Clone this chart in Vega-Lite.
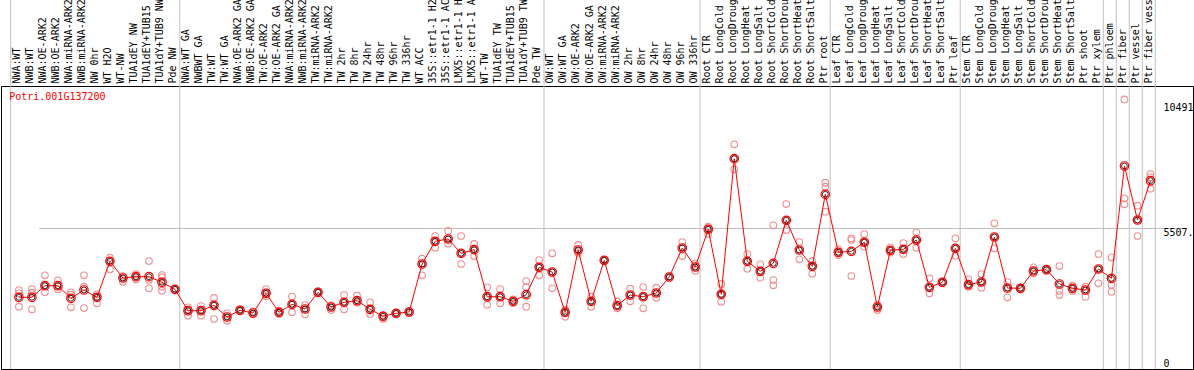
{
  "$schema": "https://vega.github.io/schema/vega-lite/v6.json",
  "width": 1192,
  "height": 283,
  "autosize": {"type": "none"},
  "padding": {"left": 1, "top": 86, "right": 1, "bottom": 1},
  "background": "white",
  "config": {"view": {"stroke": "#000000", "strokeWidth": 1}, "font": "DejaVu Sans Mono"},
  "datasets": {
    "means": [
      {"i":0,"s":"NWA:WT","m":2791,"b":1},{"i":1,"s":"NWB:WT","m":2791},{"i":2,"s":"NWA:OE-ARK2","m":3242},{"i":3,"s":"NWB:OE-ARK2","m":3242},
      {"i":4,"s":"NWA:miRNA-ARK2","m":2752},{"i":5,"s":"NWB:miRNA-ARK2","m":3075},{"i":6,"s":"NW 0hr","m":2791},{"i":7,"s":"WT H2O","m":4192},
      {"i":8,"s":"WT-NW","m":3542},{"i":9,"s":"TUA1dEY NW","m":3593},{"i":10,"s":"TUA1dEY+TUB15 NW","m":3593},{"i":11,"s":"TUA1dY+TUB9 NW","m":3375},
      {"i":12,"s":"Pde NW","m":3102},
      {"i":13,"s":"NWA:WT GA","m":2269,"b":1},{"i":14,"s":"NWBWT GA","m":2269},{"i":15,"s":"TW:WT","m":2479},{"i":16,"s":"TW:WT GA","m":2024},
      {"i":17,"s":"NWA:OE-ARK2 GA","m":2285},{"i":18,"s":"NWB:OE-ARK2 GA","m":2180},{"i":19,"s":"TW:OE-ARK2","m":2947},{"i":20,"s":"TW:OE-ARK2 GA","m":2207},
      {"i":21,"s":"NWA:miRNA-ARK2 GA","m":2518},{"i":22,"s":"NWB:miRNA-ARK2 GA","m":2335},{"i":23,"s":"TW:miRNA-ARK2","m":2985},{"i":24,"s":"TW:miRNA-ARK2 GA","m":2413},
      {"i":25,"s":"TW 2hr","m":2596},{"i":26,"s":"TW 8hr","m":2658},{"i":27,"s":"TW 24hr","m":2324},{"i":28,"s":"TW 48hr","m":2051},
      {"i":29,"s":"TW 96hr","m":2168},{"i":30,"s":"TW 336hr","m":2219},{"i":31,"s":"WT ACC","m":4087},{"i":32,"s":"35S::etr1-1 H2O","m":4971},
      {"i":33,"s":"35S::etr1-1 ACC","m":5060},{"i":34,"s":"LMX5::etr1-1 H2O","m":4503},{"i":35,"s":"LMX5::etr1-1 ACC","m":4644},{"i":36,"s":"WT-TW","m":2814},
      {"i":37,"s":"TUA1dEY TW","m":2814},{"i":38,"s":"TUA1dEY+TUB15 TW","m":2635},{"i":39,"s":"TUA1dY+TUB9 TW","m":2892},{"i":40,"s":"Pde TW","m":3959},
      {"i":41,"s":"OW:WT","m":3776,"b":1},{"i":42,"s":"OW:WT GA","m":2207},{"i":43,"s":"OW:OE-ARK2","m":4632},{"i":44,"s":"OW:OE-ARK2 GA","m":2635},
      {"i":45,"s":"OW:miRNA-ARK2","m":4231},{"i":46,"s":"OW:miRNA-ARK2 GA","m":2464},{"i":47,"s":"OW 2hr","m":2880},{"i":48,"s":"OW 8hr","m":2814},
      {"i":49,"s":"OW 24hr","m":2958},{"i":50,"s":"OW 48hr","m":3581},{"i":51,"s":"OW 96hr","m":4710},{"i":52,"s":"OW 336hr","m":3970},
      {"i":53,"s":"Root CTR","m":5438,"b":1},{"i":54,"s":"Root LongCold","m":2908},{"i":55,"s":"Root LongDrought","m":8186},{"i":56,"s":"Root LongHeat","m":4192},
      {"i":57,"s":"Root LongSalt","m":3803},{"i":58,"s":"Root ShortCold","m":4114},{"i":59,"s":"Root ShortDrought","m":5788},{"i":60,"s":"Root ShortHeat","m":4632},
      {"i":61,"s":"Root ShortSalt","m":3998},{"i":62,"s":"Ptr root","m":6800},
      {"i":63,"s":"Leaf CTR","m":4542,"b":1},{"i":64,"s":"Leaf LongCold","m":4581},{"i":65,"s":"Leaf LongDrought","m":4932},{"i":66,"s":"Leaf LongHeat","m":2413},
      {"i":67,"s":"Leaf LongSalt","m":4620},{"i":68,"s":"Leaf ShortCold","m":4659},{"i":69,"s":"Leaf ShortDrought","m":5021},{"i":70,"s":"Leaf ShortHeat","m":3180},
      {"i":71,"s":"Leaf ShortSalt","m":3375},{"i":72,"s":"Ptr leaf","m":4698},
      {"i":73,"s":"Stem CTR","m":3281,"b":1},{"i":74,"s":"Stem LongCold","m":3386},{"i":75,"s":"Stem LongDrought","m":5138},{"i":76,"s":"Stem LongHeat","m":3153},
      {"i":77,"s":"Stem LongSalt","m":3141},{"i":78,"s":"Stem ShortCold","m":3815},{"i":79,"s":"Stem ShortDrought","m":3865},{"i":80,"s":"Stem ShortHeat","m":3309},
      {"i":81,"s":"Stem ShortSalt","m":3141},{"i":82,"s":"Ptr shoot","m":3075},{"i":83,"s":"Ptr xylem","m":3892},
      {"i":84,"s":"Ptr phloem","m":3530,"b":1},{"i":85,"s":"Ptr fiber","m":7902,"b":1},{"i":86,"s":"Ptr vessel","m":5800,"b":1},{"i":87,"s":"Ptr fiber vessel","m":7329,"b":1}
    ],
    "reps": [
      {"i":0,"v":3075},{"i":0,"v":2947},{"i":0,"v":2425},
      {"i":1,"v":3114},{"i":1,"v":2970},{"i":1,"v":2324},
      {"i":2,"v":3647},{"i":2,"v":3242},{"i":2,"v":2985},
      {"i":3,"v":3453},{"i":3,"v":3242},{"i":3,"v":3102},
      {"i":4,"v":2985},{"i":4,"v":2892},{"i":4,"v":2402},
      {"i":5,"v":3647},{"i":5,"v":3203},{"i":5,"v":2374},
      {"i":6,"v":2908},{"i":6,"v":2791},{"i":6,"v":2557},
      {"i":7,"v":4332},{"i":7,"v":4204},{"i":7,"v":3881},
      {"i":8,"v":3620},{"i":8,"v":3542},{"i":8,"v":3398},
      {"i":9,"v":3698},{"i":9,"v":3593},{"i":9,"v":3491},
      {"i":10,"v":4204},{"i":10,"v":3464},{"i":10,"v":3141},
      {"i":11,"v":3659},{"i":11,"v":3569},{"i":11,"v":3203},{"i":11,"v":3048},
      {"i":12,"v":3102},{"i":12,"v":3080},{"i":12,"v":3130},
      {"i":13,"v":2402},{"i":13,"v":2269},{"i":13,"v":2075},
      {"i":14,"v":2452},{"i":14,"v":2269},{"i":14,"v":2075},
      {"i":15,"v":2764},{"i":15,"v":2479},{"i":15,"v":1946},
      {"i":16,"v":2168},{"i":16,"v":2024},{"i":16,"v":1880},
      {"i":17,"v":2316},{"i":17,"v":2285},{"i":17,"v":2258},
      {"i":18,"v":2246},{"i":18,"v":2180},{"i":18,"v":2129},
      {"i":19,"v":3114},{"i":19,"v":2947},{"i":19,"v":2830},
      {"i":20,"v":2269},{"i":20,"v":2207},{"i":20,"v":2141},
      {"i":21,"v":2822},{"i":21,"v":2518},{"i":21,"v":2211},
      {"i":22,"v":2491},{"i":22,"v":2335},{"i":22,"v":2129},
      {"i":23,"v":3017},{"i":23,"v":2985},{"i":23,"v":2958},
      {"i":24,"v":2472},{"i":24,"v":2413},{"i":24,"v":2297},
      {"i":25,"v":2880},{"i":25,"v":2596},{"i":25,"v":2324},
      {"i":26,"v":2853},{"i":26,"v":2658},{"i":26,"v":2581},
      {"i":27,"v":2596},{"i":27,"v":2324},{"i":27,"v":2141},
      {"i":28,"v":2102},{"i":28,"v":2051},{"i":28,"v":1946},
      {"i":29,"v":2199},{"i":29,"v":2168},{"i":29,"v":2141},
      {"i":30,"v":2258},{"i":30,"v":2219},{"i":30,"v":2180},
      {"i":31,"v":4293},{"i":31,"v":4087},{"i":31,"v":3647},
      {"i":32,"v":5177},{"i":32,"v":4971},{"i":32,"v":4722},
      {"i":33,"v":5372},{"i":33,"v":5060},{"i":33,"v":4877},
      {"i":34,"v":5177},{"i":34,"v":4503},{"i":34,"v":4087},
      {"i":35,"v":4866},{"i":35,"v":4644},{"i":35,"v":4398},
      {"i":36,"v":3180},{"i":36,"v":2814},{"i":36,"v":2503},
      {"i":37,"v":3114},{"i":37,"v":2814},{"i":37,"v":2557},
      {"i":38,"v":2713},{"i":38,"v":2635},{"i":38,"v":2569},
      {"i":39,"v":3425},{"i":39,"v":3180},{"i":39,"v":2425},
      {"i":40,"v":4243},{"i":40,"v":3959},{"i":40,"v":3647},
      {"i":41,"v":4503},{"i":41,"v":3776},{"i":41,"v":3141},
      {"i":42,"v":2297},{"i":42,"v":2207},{"i":42,"v":2036},
      {"i":43,"v":4827},{"i":43,"v":4632},{"i":43,"v":4515},
      {"i":44,"v":2814},{"i":44,"v":2635},{"i":44,"v":2425},
      {"i":45,"v":4262},{"i":45,"v":4231},{"i":45,"v":4204},
      {"i":46,"v":2620},{"i":46,"v":2464},{"i":46,"v":2363},
      {"i":47,"v":3126},{"i":47,"v":2880},{"i":47,"v":2635},
      {"i":48,"v":3192},{"i":48,"v":2814},{"i":48,"v":2363},
      {"i":49,"v":3165},{"i":49,"v":2958},{"i":49,"v":2775},
      {"i":50,"v":3600},{"i":50,"v":3581},{"i":50,"v":3562},
      {"i":51,"v":4943},{"i":51,"v":4710},{"i":51,"v":4398},
      {"i":52,"v":4114},{"i":52,"v":3970},{"i":52,"v":3826},
      {"i":53,"v":5539},{"i":53,"v":5438},{"i":53,"v":5255},
      {"i":54,"v":3309},{"i":54,"v":2908},{"i":54,"v":2620},
      {"i":55,"v":8746},{"i":55,"v":8186},{"i":55,"v":7773},
      {"i":56,"v":4476},{"i":56,"v":4192},{"i":56,"v":3904},
      {"i":57,"v":4075},{"i":57,"v":3803},{"i":57,"v":3554},
      {"i":58,"v":5593},{"i":58,"v":3464},{"i":58,"v":3258},
      {"i":59,"v":6422},{"i":59,"v":5788},{"i":59,"v":5410},
      {"i":60,"v":4943},{"i":60,"v":4632},{"i":60,"v":4270},
      {"i":61,"v":4204},{"i":61,"v":3998},{"i":61,"v":3709},
      {"i":62,"v":7252},{"i":62,"v":7096},{"i":62,"v":6123},
      {"i":63,"v":4659},{"i":63,"v":4542},{"i":63,"v":4437},
      {"i":64,"v":5087},{"i":64,"v":5021},{"i":64,"v":3620},
      {"i":65,"v":5255},{"i":65,"v":4932},{"i":65,"v":4760},
      {"i":66,"v":2491},{"i":66,"v":2413},{"i":66,"v":2297},
      {"i":67,"v":4737},{"i":67,"v":4620},{"i":67,"v":4527},
      {"i":68,"v":4904},{"i":68,"v":4659},{"i":68,"v":4476},
      {"i":69,"v":5321},{"i":69,"v":5021},{"i":69,"v":4722},
      {"i":70,"v":3530},{"i":70,"v":3180},{"i":70,"v":2947},
      {"i":71,"v":3406},{"i":71,"v":3375},{"i":71,"v":3347},
      {"i":72,"v":5087},{"i":72,"v":4698},{"i":72,"v":4410},
      {"i":73,"v":3491},{"i":73,"v":3281},{"i":73,"v":3203},
      {"i":74,"v":3698},{"i":74,"v":3386},{"i":74,"v":3165},
      {"i":75,"v":5671},{"i":75,"v":5138},{"i":75,"v":4698},
      {"i":76,"v":3386},{"i":76,"v":3153},{"i":76,"v":2791},
      {"i":77,"v":3172},{"i":77,"v":3141},{"i":77,"v":3114},
      {"i":78,"v":3959},{"i":78,"v":3815},{"i":78,"v":3725},
      {"i":79,"v":3900},{"i":79,"v":3865},{"i":79,"v":3834},
      {"i":80,"v":4009},{"i":80,"v":3036},{"i":80,"v":2880},
      {"i":81,"v":3242},{"i":81,"v":3141},{"i":81,"v":3036},
      {"i":82,"v":3203},{"i":82,"v":3075},{"i":82,"v":2814},
      {"i":83,"v":4476},{"i":83,"v":3892},{"i":83,"v":3336},
      {"i":84,"v":4348},{"i":84,"v":3270},{"i":84,"v":3009},
      {"i":85,"v":10491},{"i":85,"v":6644},{"i":85,"v":6411},
      {"i":86,"v":6356},{"i":86,"v":5800},{"i":86,"v":5177},
      {"i":87,"v":7590},{"i":87,"v":7462},{"i":87,"v":7018}
    ]
  },
  "layer": [
    {
      "data": {"name": "means"},
      "transform": [{"filter": "datum.b == 1"}],
      "mark": {"type": "rule", "color": "#c0c0c0", "strokeWidth": 1},
      "encoding": {
        "x": {
          "field": "s", "type": "nominal", "sort": {"field": "i", "op": "min"}, "bandPosition": 0,
          "scale": {"range": [9.7, 1154.3], "paddingInner": 0, "paddingOuter": 0},
          "axis": {
            "orient": "top", "title": null, "labelAngle": -90, "labelAlign": "left", "labelBaseline": "middle",
            "labelPadding": 3, "ticks": false, "domain": false, "grid": false,
            "labelFont": "DejaVu Sans Mono", "labelFontSize": 10, "labelColor": "#000000",
            "labelLimit": 1000, "labelOverlap": false, "labelBound": false, "bandPosition": 0.6
          }
        },
        "y": {
          "datum": 0, "type": "quantitative",
          "scale": {"domain": [0, 11015.55], "nice": false, "zero": true},
          "axis": {
            "orient": "right", "title": null, "values": [0, 5507.775, 10491],
            "labelExpr": "datum.value == 0 ? '0' : datum.value == 10491 ? '10491' : '5507.775'",
            "ticks": false, "tickSize": 0, "domain": false, "labelPadding": -30, "labelAlign": "left",
            "labelBaseline": {"condition": {"test": "datum.value == 0", "value": "alphabetic"}, "value": "top"},
            "labelOffset": {"condition": [{"test": "datum.value == 0", "value": -3}, {"test": "datum.value == 10491", "value": 3}], "value": 0},
            "grid": true, "gridColor": "#c0c0c0", "gridWidth": 1,
            "gridOpacity": {"condition": {"test": "datum.value == 5507.775", "value": 1}, "value": 0},
            "labelFont": "DejaVu Sans Mono", "labelFontSize": 10, "labelColor": "#000000"
          }
        },
        "y2": {"datum": 14363}
      }
    },
    {
      "data": {"name": "means"},
      "transform": [{"filter": "datum.i == 87"}],
      "mark": {"type": "rule", "color": "#c0c0c0", "strokeWidth": 1},
      "encoding": {
        "x": {"field": "s", "type": "nominal", "sort": {"field": "i", "op": "min"}, "bandPosition": 1},
        "y": {"datum": 0, "type": "quantitative"},
        "y2": {"datum": 14363}
      }
    },
    {
      "data": {"name": "reps"},
      "transform": [{"lookup": "i", "from": {"data": {"name": "means"}, "key": "i", "fields": ["s"]}}],
      "mark": {"type": "point", "shape": "circle", "filled": false, "stroke": "#ee9090", "strokeWidth": 1.1, "size": 44, "opacity": 1},
      "encoding": {
        "x": {"field": "s", "type": "nominal", "sort": {"field": "i", "op": "min"}, "bandPosition": 0.63},
        "y": {"field": "v", "type": "quantitative"}
      }
    },
    {
      "data": {"name": "means"},
      "mark": {"type": "line", "color": "#ff0000", "strokeWidth": 1},
      "encoding": {
        "x": {"field": "s", "type": "nominal", "sort": {"field": "i", "op": "min"}, "bandPosition": 0.63},
        "y": {"field": "m", "type": "quantitative"},
        "order": {"field": "i", "type": "quantitative"}
      }
    },
    {
      "data": {"name": "means"},
      "mark": {"type": "point", "shape": "circle", "filled": false, "stroke": "#ff0000", "strokeWidth": 1.2, "size": 72, "opacity": 1},
      "encoding": {
        "x": {"field": "s", "type": "nominal", "sort": {"field": "i", "op": "min"}, "bandPosition": 0.63},
        "y": {"field": "m", "type": "quantitative"}
      }
    },
    {
      "data": {"name": "means"},
      "mark": {"type": "point", "shape": "circle", "filled": false, "stroke": "#000000", "strokeWidth": 0.8, "size": 34, "opacity": 1},
      "encoding": {
        "x": {"field": "s", "type": "nominal", "sort": {"field": "i", "op": "min"}, "bandPosition": 0.63},
        "y": {"field": "m", "type": "quantitative"}
      }
    },
    {
      "data": {"values": [{"i": 0, "s": "NWA:WT", "v": 11015.55, "t": "Potri.001G137200"}]},
      "mark": {"type": "text", "align": "left", "baseline": "top", "dx": -1.5, "dy": 6, "color": "#ff0000", "font": "DejaVu Sans Mono", "fontSize": 10},
      "encoding": {
        "x": {"field": "s", "type": "nominal", "sort": {"field": "i", "op": "min"}, "bandPosition": 0},
        "y": {"field": "v", "type": "quantitative"},
        "text": {"field": "t"}
      }
    }
  ]
}
